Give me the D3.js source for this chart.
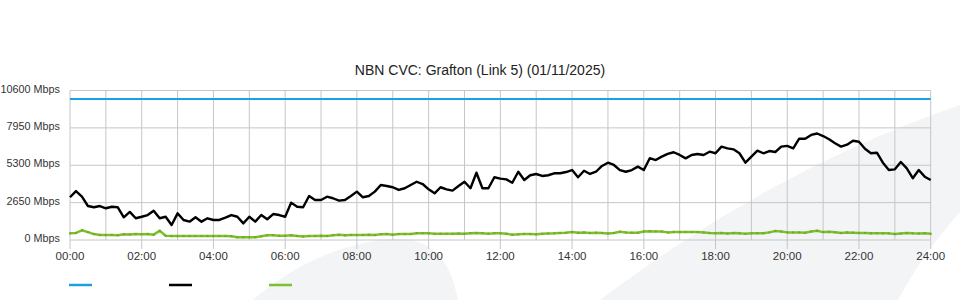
<!DOCTYPE html>
<html>
<head>
<meta charset="utf-8">
<script src="https://cdn.jsdelivr.net/npm/d3@7"></script>
<style>
  body { margin: 0; background: #fff; }
  svg { display: block; font-family: "Liberation Sans", Arial, sans-serif; }
</style>
</head>
<body>
<div id="chart"></div>
<script>
// minutes since midnight, one reading every 10 minutes
const times = d3.range(0, 1441, 10);

// link capacity (blue)
const capacityMbps = 10000;

// traffic in (black)
const trafficIn = [
  3030, 3470, 3070, 2410, 2320, 2410,
  2250, 2360, 2320, 1610, 1990, 1540,
  1650, 1770, 2080, 1540, 1650, 1060,
  1890, 1420, 1300, 1610, 1300, 1540,
  1420, 1420, 1580, 1770, 1650, 1180,
  1650, 1300, 1770, 1470, 1840, 1770,
  1650, 2650, 2360, 2320, 3120, 2840,
  2840, 3070, 2960, 2790, 2840, 3120,
  3430, 3030, 3120, 3430, 3900, 3830,
  3740, 3550, 3670, 3900, 4130, 3970,
  3590, 3310, 3740, 3590, 3500, 3830,
  4130, 3670, 4770, 3670, 3670, 4450,
  4350, 4300, 4060, 4840, 4250, 4590,
  4680, 4540, 4590, 4730, 4730, 4820,
  4960, 4450, 4910, 4680, 4840, 5250,
  5480, 5320, 4960, 4840, 4960, 5200,
  4960, 5800, 5670, 5910, 6100, 6220,
  6030, 5790, 6030, 6100, 6030, 6260,
  6150, 6620, 6500, 6430, 6150, 5480,
  5910, 6330, 6150, 6310, 6240, 6620,
  6670, 6500, 7180, 7180, 7450, 7550,
  7370, 7140, 6860, 6620, 6760, 7040,
  6970, 6470, 6150, 6190, 5480, 4960,
  5010, 5530, 5080, 4380, 4960, 4490,
  4250
];

// traffic out (green)
const trafficOut = [
  470, 500, 690, 560, 420, 360,
  350, 360, 340, 400, 390, 420,
  410, 420, 380, 650, 300, 280,
  280, 280, 280, 280, 280, 280,
  280, 280, 280, 270, 190, 190,
  190, 200, 260, 330, 340, 300,
  300, 330, 290, 250, 280, 290,
  300, 290, 340, 370, 330, 360,
  360, 360, 370, 360, 410, 420,
  380, 420, 420, 430, 480, 480,
  470, 440, 440, 440, 440, 460,
  440, 480, 500, 480, 450, 480,
  470, 440, 380, 400, 430, 420,
  400, 440, 460, 470, 500, 520,
  560, 520, 540, 500, 520, 500,
  460, 500, 580, 540, 520, 520,
  600, 620, 610, 600, 540, 560,
  560, 560, 560, 560, 540, 500,
  480, 500, 460, 490, 470, 440,
  470, 480, 480, 540, 640, 600,
  540, 540, 530, 520, 600, 650,
  560, 580, 550, 500, 540, 520,
  500, 500, 470, 480, 470, 470,
  420, 460, 500, 470, 460, 480,
  440
];

const yTicks = [0, 2650, 5300, 7950, 10600];
const xTickLabels = ["00:00", "02:00", "04:00", "06:00", "08:00", "10:00", "12:00",
  "14:00", "16:00", "18:00", "20:00", "22:00", "24:00"];
const hours = d3.range(0, 25);

const title = "NBN CVC: Grafton (Link 5) (01/11/2025)";
const colors = { capacity: "#1ba1e2", in: "#000000", out: "#7dbf2d" };

const width = 960, height = 300;
const svg = d3.select("#chart").append("svg")
  .attr("width", width)
  .attr("height", height);

// faint watermark behind the chart
const bg = svg.append("g").attr("fill", "#f3f4f6");
bg.append("path")
  .attr("d", "M600,300 C680,240 800,160 960,105 L960,212 C935,240 915,268 898,300 Z");
bg.append("path")
  .attr("d", "M253,300 C300,258 360,238 402,239 C440,241 452,270 458,300 Z");

const x = d3.scaleLinear().domain([0, 1440]).range([70, 930.7]);
const y = d3.scaleLinear().domain([0, 10600]).range([240, 90.5]);

// grid
const grid = svg.append("g").attr("stroke", "#c6c6c6").attr("stroke-width", 1);
grid.selectAll(".hgrid")
  .data(yTicks)
  .enter()
  .append("line")
  .attr("x1", x(0))
  .attr("x2", x(1440))
  .attr("y1", d => y(d))
  .attr("y2", d => y(d));

grid.selectAll(".vgrid")
  .data(hours)
  .enter()
  .append("line")
  .attr("x1", d => x(d * 60))
  .attr("x2", d => x(d * 60))
  .attr("y1", y(10600))
  .attr("y2", d => d % 2 === 0 ? 249 : y(0));

// y axis labels
svg.append("g")
  .selectAll("text")
  .data(yTicks)
  .enter()
  .append("text")
  .attr("x", 60)
  .attr("y", d => y(d) + 2)
  .attr("text-anchor", "end")
  .attr("font-size", 10.8)
  .attr("fill", "#333")
  .text(d => `${d} Mbps`);

// x axis labels
svg.append("g")
  .selectAll("text")
  .data(xTickLabels)
  .enter()
  .append("text")
  .attr("x", (d, i) => x(i * 120))
  .attr("y", 260)
  .attr("text-anchor", "middle")
  .attr("font-size", 11.5)
  .attr("fill", "#333")
  .text(d => d);

// title
svg.append("text")
  .attr("x", 480)
  .attr("y", 75)
  .attr("text-anchor", "middle")
  .attr("font-size", 14)
  .attr("fill", "#222")
  .text(title);

const line = d3.line()
  .x(d => x(d[0]))
  .y(d => y(d[1]));

// capacity
svg.append("path")
  .datum([[times[0], capacityMbps], [times[times.length - 1], capacityMbps]])
  .attr("d", line)
  .attr("fill", "none")
  .attr("stroke", colors.capacity)
  .attr("stroke-width", 2);

// out traffic with small point markers
const outData = times.map((t, i) => [t, trafficOut[i]]);
svg.append("path")
  .datum(outData)
  .attr("d", line)
  .attr("fill", "none")
  .attr("stroke", colors.out)
  .attr("stroke-width", 2.5)
  .attr("stroke-linejoin", "round");

svg.append("g")
  .selectAll("rect")
  .data(outData)
  .enter()
  .append("rect")
  .attr("x", d => x(d[0]) - 1)
  .attr("y", d => y(d[1]) - 1)
  .attr("width", 2)
  .attr("height", 2)
  .attr("fill", "#6cab24");

// in traffic
svg.append("path")
  .datum(times.map((t, i) => [t, trafficIn[i]]))
  .attr("d", line)
  .attr("fill", "none")
  .attr("stroke", colors.in)
  .attr("stroke-width", 2.4)
  .attr("stroke-linejoin", "round");

// legend swatches
const legend = [colors.capacity, colors.in, colors.out];
svg.append("g")
  .selectAll("line")
  .data(legend)
  .enter()
  .append("line")
  .attr("x1", (d, i) => 69 + i * 100)
  .attr("x2", (d, i) => 92 + i * 100)
  .attr("y1", 285)
  .attr("y2", 285)
  .attr("stroke", d => d)
  .attr("stroke-width", 2.5);
</script>
</body>
</html>
